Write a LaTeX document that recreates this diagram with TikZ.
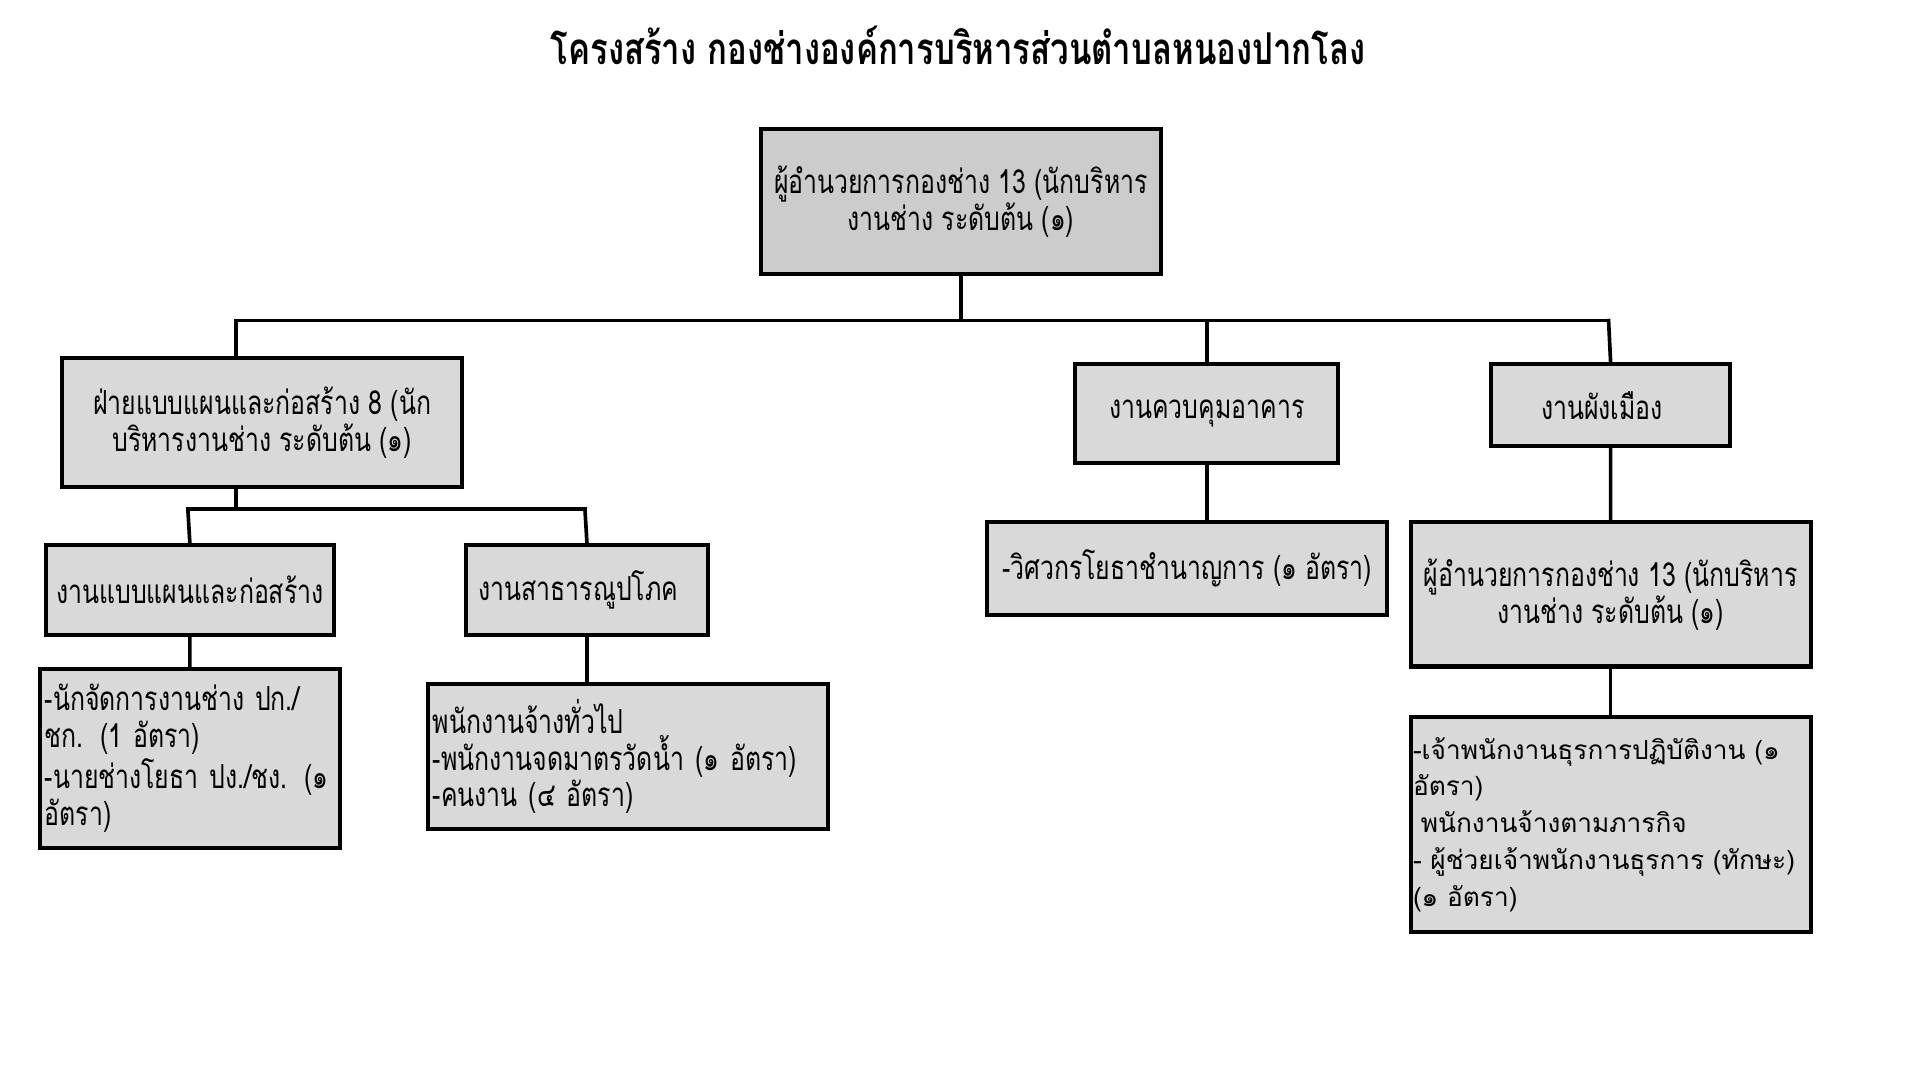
\documentclass[tikz,border=0pt]{standalone}
\usepackage{fontspec}
\newfontfamily\thaicond[Script=Thai,FakeStretch=0.75]{Loma}
\newfontfamily\thaiwide[Script=Thai]{Loma}
\definecolor{topgray}{HTML}{CCCCCC}
\definecolor{boxgray}{HTML}{D9D9D9}
\tikzset{
  box/.style={draw=black, line width=0.95pt, fill=boxgray, inner sep=0pt, anchor=north west,
    font=\thaicond\fontsize{7.7}{8.54}\selectfont},
  leftbox/.style={box, align=left},
  ctrbox/.style={box, align=center},
  link/.style={line width=0.85pt, line cap=rect}
}
\begin{document}
\begin{tikzpicture}[x=0.1mm, y=-0.1mm]
\useasboundingbox (0,0) rectangle (1569,882.6);
\node[font=\thaicond\bfseries\fontsize{10.2}{12}\selectfont] (title) at (783,37) {โครงสร้าง กองช่างองค์การบริหารส่วนตำบลหนองปากโลง};

\node[ctrbox, fill=topgray, minimum width=32.7mm, minimum height=11.8mm] (top) at (620,104) {ผู้อำนวยการกองช่าง 13 (นักบริหาร\\งานช่าง ระดับต้น (๑)};

\node[ctrbox, minimum width=32.7mm, minimum height=10.5mm] (A) at (49,291) {ฝ่ายแบบแผนและก่อสร้าง 8 (นัก\\บริหารงานช่าง ระดับต้น (๑)};
\node[ctrbox, minimum width=23.5mm, minimum height=7.3mm] (A1) at (36,444) {งานแบบแผนและก่อสร้าง};
\node[ctrbox, minimum width=19.8mm, minimum height=7.3mm] (A2) at (379,444) {งานสาธารณูปโภค\hspace*{1.4mm}};
\node[leftbox, minimum width=24.5mm, minimum height=14.6mm, text width=23.7mm] (A1p) at (31,545) {-นักจัดการงานช่าง ปก./\\ชก. (1 อัตรา)\\-นายช่างโยธา ปง./ชง. (๑\\อัตรา)};
\node[leftbox, minimum width=32.7mm, minimum height=11.9mm, text width=31.9mm] (A2p) at (348,557) {พนักงานจ้างทั่วไป\\-พนักงานจดมาตรวัดน้ำ (๑ อัตรา)\\-คนงาน (๔ อัตรา)};

\node[ctrbox, minimum width=21.5mm, minimum height=8.1mm] (B) at (877,296) {งานควบคุมอาคาร};
\node[ctrbox, minimum width=32.7mm, minimum height=7.6mm] (Bp) at (805,425) {-วิศวกรโยธาชำนาญการ (๑ อัตรา)};

\node[ctrbox, minimum width=19.5mm, minimum height=6.7mm] (C) at (1217,296) {งานผังเมือง\hspace*{1.4mm}};
\node[ctrbox, minimum width=32.7mm, minimum height=11.8mm] (Cp) at (1151,425) {ผู้อำนวยการกองช่าง 13 (นักบริหาร\\งานช่าง ระดับต้น (๑)};
\node[leftbox, minimum width=32.7mm, minimum height=17.6mm, text width=32.3mm,
  font=\thaiwide\fontsize{6.1}{8.54}\selectfont] (Cpp) at (1151,584) {-เจ้าพนักงานธุรการปฏิบัติงาน (๑\\อัตรา)\\\hspace*{0.3em}พนักงานจ้างตามภารกิจ\\- ผู้ช่วยเจ้าพนักงานธุรการ (ทักษะ)\\(๑ อัตรา)};

\coordinate (busL) at (193,262);
\coordinate (busR) at (1314.5,262);
\coordinate (subL) at (153.5,416);
\coordinate (subR) at (478,416);

\draw[link] (top.south) -- (top.south |- busL);
\draw[link] (busL) -- (busR);
\draw[link] (busL) -- (busL |- A.north);
\draw[link] (B.north |- busL) -- (B.north);
\draw[link] (busR) -- (C.north);
\draw[link] (A.south -| busL) -- (busL |- subL);
\draw[link] (subL) -- (subR);
\draw[link] (subL) -- (A1.north);
\draw[link] (subR) -- (A2.north);
\draw[link] (A1.south) -- (A1p.north);
\draw[link] (A2.south) -- (A2.south |- A2p.north);
\draw[link] (B.south) -- (B.south |- Bp.north);
\draw[link] (C.south) -- (Cp.north);
\draw[link] (Cp.south) -- (Cpp.north);
\end{tikzpicture}
\end{document}
